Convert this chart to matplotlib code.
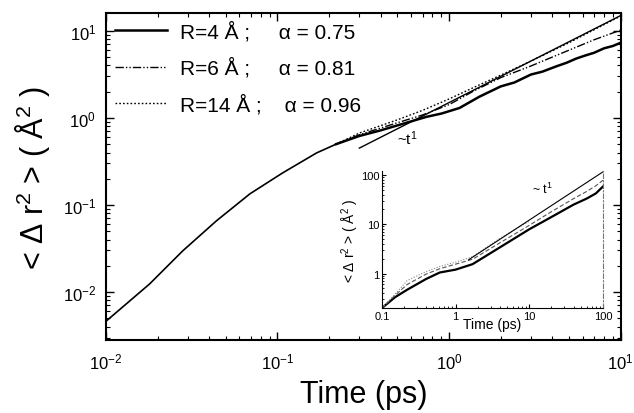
import matplotlib
matplotlib.use("Agg")
import matplotlib.pyplot as plt
from matplotlib.ticker import LogLocator, NullFormatter

plt.rcParams['font.family'] = ['Liberation Sans', 'DejaVu Sans']
plt.rcParams['mathtext.default'] = 'regular'

# common short-time part (all radii overlap)
t_short = [0.01, 0.018, 0.028, 0.044, 0.069, 0.107, 0.169, 0.22]
msd_short = [0.0046, 0.0124, 0.0296, 0.0655, 0.134, 0.233, 0.396, 0.50]

# long-time parts
t_r4 = [0.22, 0.3, 0.4, 0.5, 0.74, 0.9, 1.15, 1.5, 2.0, 2.4, 3.0, 3.5, 4.2, 4.84, 5.5, 6.2, 7.0, 8.0, 9.0, 10.0]
msd_r4 = [0.50, 0.62, 0.72, 0.82, 1.03, 1.12, 1.3, 1.75, 2.3, 2.55, 3.15, 3.4, 3.9, 4.3, 4.8, 5.2, 5.6, 6.3, 6.7, 7.3]
t_r6 = [0.22, 0.3, 0.5, 0.7, 1.0, 1.4, 2.0, 3.0, 4.0, 5.0, 7.0, 10.0]
msd_r6 = [0.50, 0.64, 0.88, 1.08, 1.42, 2.05, 2.9, 3.95, 5.0, 6.0, 7.9, 10.2]
t_r14 = [0.22, 0.3, 0.5, 0.7, 1.0, 1.4, 2.0, 3.0, 5.0, 7.0, 10.0]
msd_r14 = [0.50, 0.67, 0.95, 1.22, 1.65, 2.25, 3.1, 4.5, 7.3, 10.3, 14.8]
t_guide = [0.3, 10.0]
msd_guide = [0.45, 15.0]

labels = ['R=4 Å ;     α = 0.75', 'R=6 Å ;     α = 0.81', 'R=14 Å ;    α = 0.96']

# inset (0.1 - 100 ps)
ti = [0.1, 0.15, 0.22, 0.4, 0.61, 1.0, 1.7, 4.0, 10.0, 20.0, 40.0, 60.0, 80.0, 100.0]
msd_i_r4 = [0.2, 0.33, 0.47, 0.78, 1.05, 1.2, 1.55, 3.4, 7.9, 14.0, 25.0, 33.0, 42.0, 58.0]
msd_i_r6 = [0.2, 0.36, 0.6, 0.98, 1.25, 1.55, 1.95, 4.2, 9.5, 18.0, 33.0, 46.0, 60.0, 78.0]
msd_i_r14 = [0.2, 0.38, 0.72, 1.1, 1.39, 1.7, 2.2, 5.2, 11.5]
t_i_guide = [1.5, 100.0]
msd_i_guide = [1.9, 115.0]

fig = plt.figure(figsize=(6.34, 4.14), dpi=100)
ax = fig.add_axes([0.167, 0.176, 0.812, 0.79])

ax.plot(t_short, msd_short, color='black', lw=1.2)
ax.plot(t_r4, msd_r4, color='black', lw=1.8, ls='-', label=labels[0])
ax.plot(t_r6, msd_r6, color='black', lw=1.0, ls=(0, (6, 1.5, 1, 1.5, 1, 1.5)), label=labels[1])
ax.plot(t_r14, msd_r14, color='black', lw=1.0, ls=(0, (1.2, 1.5)), label=labels[2])
ax.plot(t_guide, msd_guide, color='black', lw=1.0)
ax.text(0.5, 0.5, '~t$^1$', fontsize=11)

ax.set_xscale('log')
ax.set_yscale('log')
ax.set_xlim(0.01, 10)
ax.set_ylim(0.0028, 16)
ax.xaxis.set_major_locator(LogLocator(base=10, numticks=10))
ax.yaxis.set_major_locator(LogLocator(base=10, numticks=10))
ax.xaxis.set_minor_locator(LogLocator(base=10, subs=range(2, 10), numticks=20))
ax.yaxis.set_minor_locator(LogLocator(base=10, subs=range(2, 10), numticks=20))
ax.xaxis.set_minor_formatter(NullFormatter())
ax.yaxis.set_minor_formatter(NullFormatter())
ax.tick_params(which='both', direction='in', top=True, right=True, labelsize=12)
ax.tick_params(which='major', length=6, width=1)
ax.tick_params(which='minor', length=3, width=0.8)
ax.tick_params(axis='x', pad=8)
ax.tick_params(axis='y', pad=7)
for s in ax.spines.values():
    s.set_linewidth(1.5)

ax.set_xlabel('Time (ps)', fontsize=22, labelpad=6)
ax.set_ylabel('< Δ r$^2$ > ( Å$^2$ )', fontsize=22, labelpad=8)

ax.legend(loc='upper left', bbox_to_anchor=(-0.01, 1.02), frameon=False, fontsize=15,
          handlelength=2.5, handletextpad=0.6, labelspacing=0.75, borderaxespad=0.3)

# inset
axi = fig.add_axes([0.6025, 0.2536, 0.3485, 0.331])
axi.plot(ti, msd_i_r4, color='black', lw=1.6)
axi.plot(ti, msd_i_r6, color='#555555', lw=0.8, ls=(0, (4, 2)))
axi.plot(ti[:len(msd_i_r14)], msd_i_r14, color='#888888', lw=0.8, ls=(0, (1, 1.5)))
axi.plot(t_i_guide, msd_i_guide, color='black', lw=0.8)
axi.text(11, 42, '~ t$^1$', fontsize=9)
axi.set_xscale('log')
axi.set_yscale('log')
axi.set_xlim(0.1, 100)
axi.set_ylim(0.2, 120)
axi.set_xticks([0.1, 1, 10, 100])
axi.set_xticklabels(['0.1', '1', '10', '100'])
axi.set_yticks([1, 10, 100])
axi.set_yticklabels(['1', '10', '100'])
axi.xaxis.set_minor_formatter(NullFormatter())
axi.yaxis.set_minor_formatter(NullFormatter())
axi.tick_params(which='both', direction='in', labelsize=8, pad=2)
axi.tick_params(which='major', length=3)
axi.tick_params(which='minor', length=1.5)
axi.spines['top'].set_visible(False)
axi.spines['right'].set_linestyle((0, (4, 2, 1, 2)))
axi.spines['right'].set_color('#777777')
axi.set_xlabel('Time (ps)', fontsize=10, labelpad=-3)
axi.set_ylabel('< Δ r$^2$ > ( Å$^2$ )', fontsize=10, labelpad=0)

fig.savefig('out.png', dpi=100)
